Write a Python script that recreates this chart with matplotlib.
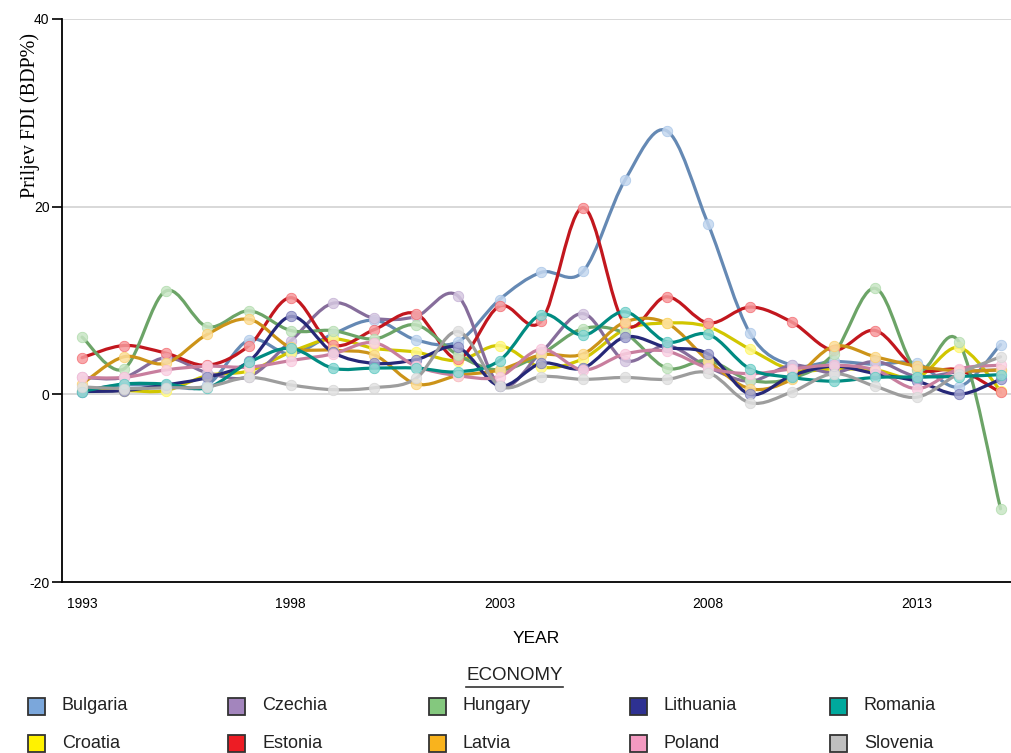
import numpy as np
import matplotlib
matplotlib.use("Agg")
import matplotlib.pyplot as plt
from matplotlib.path import Path
from matplotlib.patches import PathPatch, Rectangle
from matplotlib.lines import Line2D
from matplotlib.colors import to_rgb

years = list(range(1993, 2016))

countries = ["Bulgaria", "Croatia", "Czechia", "Estonia", "Hungary",
             "Latvia", "Lithuania", "Poland", "Romania", "Slovenia"]

bulgaria = [0.4, 1.0, 0.9, 1.0, 5.8, 4.3, 6.4, 7.9, 5.8, 5.6, 10.1, 13.0, 13.1,
            22.8, 28.1, 18.1, 6.5, 3.1, 3.5, 3.2, 3.3, 0.8, 5.3]
croatia = [0.4, 0.4, 0.4, 2.0, 2.5, 4.5, 5.9, 4.9, 4.5, 3.6, 5.2, 2.9, 3.8,
           6.9, 7.6, 7.2, 4.8, 2.6, 2.7, 2.6, 1.8, 5.0, 0.4]
czechia = [1.8, 1.8, 3.9, 2.3, 1.9, 5.7, 9.7, 8.1, 8.3, 10.5, 1.0, 4.5, 8.6,
           3.6, 5.2, 2.9, 1.4, 3.1, 2.3, 3.5, 1.9, 2.4, 2.6]
estonia = [3.9, 5.2, 4.4, 3.1, 5.2, 10.3, 5.3, 6.9, 8.6, 3.8, 9.4, 7.8, 19.9,
           7.5, 10.4, 7.6, 9.3, 7.7, 4.7, 6.8, 2.7, 2.6, 0.2]
hungary = [6.1, 2.7, 11.0, 7.2, 8.9, 6.8, 6.8, 5.9, 7.4, 4.2, 2.6, 4.3, 7.0,
           6.5, 2.8, 3.6, 1.5, 1.7, 4.3, 11.3, 2.6, 5.6, -12.2]
latvia = [1.1, 4.0, 3.3, 6.4, 8.0, 5.0, 4.7, 4.2, 1.1, 2.0, 2.6, 4.2, 4.3,
          7.7, 7.6, 3.6, 0.6, 1.6, 5.1, 4.0, 3.0, 2.5, 2.6]
lithuania = [0.3, 0.4, 1.0, 1.8, 3.5, 8.3, 4.5, 3.3, 3.7, 5.0, 0.9, 3.3, 2.8,
             6.1, 5.0, 4.3, 0.0, 2.0, 3.0, 2.2, 1.4, 0.0, 1.6]
poland = [1.8, 1.8, 2.6, 3.0, 2.9, 3.6, 4.3, 5.5, 3.0, 2.0, 1.9, 4.8, 2.6,
          4.3, 4.6, 2.8, 2.2, 2.7, 3.1, 2.6, 0.6, 2.7, 3.1]
romania = [0.3, 1.1, 1.1, 0.7, 3.4, 4.9, 2.8, 2.8, 2.8, 2.4, 3.6, 8.5, 6.3,
           8.8, 5.6, 6.4, 2.7, 1.8, 1.4, 1.8, 1.85, 1.9, 2.1]
slovenia = [0.8, 0.6, 0.7, 0.8, 1.8, 1.0, 0.5, 0.7, 1.7, 6.7, 0.9, 1.9, 1.6,
            1.8, 1.6, 2.3, -0.9, 0.25, 2.2, 0.85, -0.3, 2.2, 4.0]

series = [bulgaria, croatia, czechia, estonia, hungary,
          latvia, lithuania, poland, romania, slovenia]

colors = ["#7ba7db", "#fff200", "#a385bd", "#ed1c24", "#84c87e",
          "#f9b31d", "#2e3192", "#f49ac1", "#00a99d", "#bfbfbf"]

W, H = 1012, 753


def darker(c, f=0.82):
    r, g, b = to_rgb(c)
    return (r * f, g * f, b * f)


def lighter(c, f=0.55):
    r, g, b = to_rgb(c)
    return (r + (1 - r) * f, g + (1 - g) * f, b + (1 - b) * f)


def smooth_path(x, y):
    # catmull-rom spline as cubic bezier segments
    p = np.column_stack([x, y]).astype(float)
    pts = np.vstack([p[0], p, p[-1]])
    verts = [p[0]]
    codes = [Path.MOVETO]
    for i in range(1, len(pts) - 2):
        p0, p1, p2, p3 = pts[i - 1], pts[i], pts[i + 1], pts[i + 2]
        c1 = p1 + (p2 - p0) / 6.0
        c2 = p2 - (p3 - p1) / 6.0
        verts += [c1, c2, p2]
        codes += [Path.CURVE4] * 3
    return Path(verts, codes)


plt.rcParams["font.family"] = ["Liberation Sans", "DejaVu Sans"]
plt.rcParams["axes.unicode_minus"] = False

fig = plt.figure(figsize=(W / 100, H / 100), dpi=100)
ax = fig.add_axes([62 / W, 1 - 582 / H, (1011 - 62) / W, (582 - 19) / H])
ax.set_xlim(1992.52, 2015.25)
ax.set_ylim(-20, 40)

for v in [0, 20, 40]:
    ax.axhline(v, color="#d6d6d6", lw=1.3, zorder=0)

for name, vals, col in zip(countries, series, colors):
    patch = PathPatch(smooth_path(years, vals), fill=False,
                      edgecolor=darker(col), lw=2.3, zorder=2,
                      capstyle="round", joinstyle="round")
    ax.add_patch(patch)
    ax.plot(years, vals, linestyle="none", marker="o", ms=7.5,
            markerfacecolor=lighter(col), markeredgecolor=lighter(col, 0.35),
            markeredgewidth=0.6, alpha=0.85, zorder=3)

ax.spines["top"].set_visible(False)
ax.spines["right"].set_visible(False)
ax.spines["left"].set_linewidth(1.3)
ax.spines["bottom"].set_linewidth(1.3)

ax.set_xticks([1993, 1998, 2003, 2008, 2013])
ax.set_yticks([-20, 0, 20, 40])
ax.tick_params(axis="x", length=0, pad=11, labelsize=10)
ax.tick_params(axis="y", length=7, width=1.2, pad=2, labelsize=10)

ax.set_xlabel("YEAR", fontsize=12.5, labelpad=14)
ax.set_ylabel("Priljev FDI (BDP%)", fontsize=14.5,
              family=["Liberation Serif", "DejaVu Serif"], labelpad=4)
ax.yaxis.set_label_coords(-22 / 949, (582 - 116) / 563)

# legend
fig.text(514.5 / W, 1 - 676 / H, "ECONOMY", ha="center", va="center",
         fontsize=13.5, color="#222222")
fig.add_artist(Line2D([466 / W, 563 / W], [1 - 687 / H, 1 - 687 / H],
                      transform=fig.transFigure, color="#333333", lw=1.2))

for i, (name, col) in enumerate(zip(countries, colors)):
    c = i // 2
    r = i % 2
    bx = 28 + 200.5 * c
    by = 706 + 37 * r
    fig.add_artist(Rectangle((bx / W, 1 - (by + 9) / H), 17 / W, 17 / H,
                             transform=fig.transFigure, facecolor=col,
                             edgecolor="#333333", lw=1.3))
    fig.text((bx + 34) / W, 1 - by / H, name, ha="left", va="center",
             fontsize=13, color="#222222")

fig.savefig("out.png", dpi=100)
